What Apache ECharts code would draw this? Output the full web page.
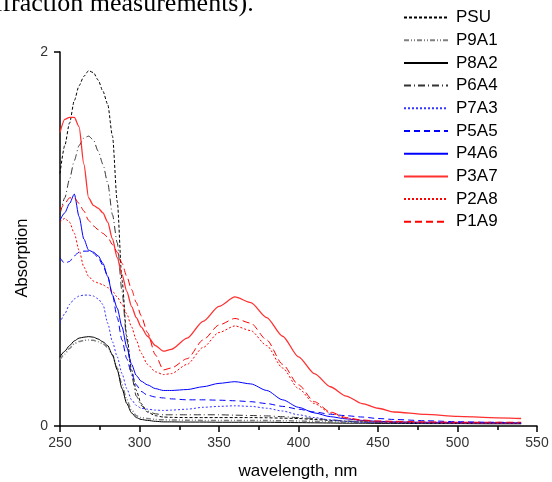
<!DOCTYPE html>
<html>
<head>
<meta charset="utf-8">
<script src="https://cdn.jsdelivr.net/npm/echarts@6/dist/echarts.min.js"></script>
<style>
  html, body { margin: 0; padding: 0; background: #fff; }
  #chart { width: 552px; height: 482px; }
</style>
</head>
<body>
<div id="chart"></div>
<script>
// wavelength grid (nm)
var wl = [250,253,256,259,262,265,268,271,274,277,280,283,286,289,292,295,298,301,305,310,315,320,330,340,350,360,370,380,390,400,410,420,430,440,450,460,480,500,520,540];

var psu  = [1.35,1.50,1.62,1.74,1.82,1.87,1.90,1.89,1.85,1.79,1.72,1.55,1.20,0.78,0.48,0.30,0.19,0.12,0.075,0.055,0.048,0.046,0.045,0.045,0.045,0.045,0.045,0.044,0.042,0.040,0.035,0.030,0.025,0.022,0.020,0.020,0.018,0.017,0.016,0.015];
var p9a1 = [0.355,0.385,0.415,0.44,0.452,0.458,0.46,0.458,0.45,0.44,0.42,0.38,0.31,0.22,0.14,0.085,0.055,0.045,0.04,0.035,0.033,0.032,0.031,0.03,0.03,0.03,0.03,0.029,0.028,0.027,0.025,0.023,0.021,0.02,0.019,0.018,0.017,0.016,0.015,0.015];
var p8a2 = [0.37,0.40,0.43,0.455,0.47,0.475,0.478,0.475,0.465,0.45,0.43,0.38,0.30,0.20,0.12,0.07,0.045,0.035,0.03,0.025,0.022,0.022,0.021,0.021,0.02,0.02,0.02,0.02,0.019,0.018,0.017,0.016,0.015,0.015,0.014,0.014,0.013,0.013,0.012,0.012];
var p6a4 = [1.13,1.22,1.32,1.42,1.50,1.54,1.55,1.53,1.47,1.40,1.30,1.13,0.98,0.72,0.46,0.27,0.16,0.11,0.08,0.065,0.06,0.06,0.06,0.06,0.06,0.058,0.056,0.054,0.05,0.045,0.04,0.033,0.027,0.022,0.02,0.018,0.016,0.015,0.015,0.015];
var p7a3 = [0.55,0.60,0.65,0.68,0.695,0.70,0.70,0.695,0.68,0.65,0.55,0.45,0.37,0.28,0.20,0.14,0.11,0.095,0.09,0.085,0.083,0.085,0.09,0.10,0.105,0.108,0.105,0.095,0.08,0.06,0.045,0.032,0.025,0.02,0.018,0.017,0.015,0.015,0.014,0.014];
var p5a5 = [0.90,0.87,0.88,0.91,0.93,0.935,0.935,0.925,0.90,0.86,0.80,0.70,0.58,0.46,0.36,0.28,0.22,0.185,0.165,0.155,0.15,0.145,0.14,0.14,0.138,0.135,0.13,0.12,0.105,0.09,0.075,0.063,0.055,0.048,0.04,0.035,0.028,0.023,0.02,0.018];
var p4a6 = [1.10,1.14,1.19,1.24,1.12,1.00,0.94,0.93,0.91,0.87,0.80,0.70,0.63,0.53,0.42,0.33,0.27,0.24,0.22,0.20,0.19,0.19,0.195,0.21,0.228,0.237,0.225,0.19,0.14,0.10,0.07,0.05,0.038,0.03,0.025,0.022,0.02,0.018,0.017,0.016];
var p3a7 = [1.57,1.64,1.65,1.65,1.60,1.40,1.22,1.18,1.165,1.14,1.09,1.00,0.90,0.81,0.72,0.64,0.58,0.53,0.48,0.43,0.40,0.41,0.47,0.56,0.64,0.69,0.66,0.58,0.48,0.37,0.28,0.21,0.16,0.12,0.095,0.075,0.062,0.052,0.045,0.04];
var p2a8 = [1.09,1.11,1.09,1.03,0.94,0.85,0.80,0.775,0.765,0.755,0.74,0.72,0.69,0.65,0.60,0.53,0.46,0.39,0.33,0.29,0.275,0.28,0.33,0.42,0.50,0.535,0.51,0.43,0.31,0.20,0.12,0.07,0.04,0.028,0.022,0.02,0.018,0.016,0.015,0.015];
var p1a9 = [1.15,1.19,1.22,1.22,1.19,1.15,1.10,1.07,1.05,1.03,1.01,0.97,0.93,0.87,0.80,0.73,0.66,0.59,0.50,0.38,0.30,0.31,0.36,0.46,0.54,0.575,0.55,0.46,0.33,0.22,0.13,0.075,0.045,0.032,0.027,0.025,0.022,0.02,0.02,0.02];

var xTicks = [250, 300, 350, 400, 450, 500, 550];
var yTicks = [0, 2];

function pairs(ys) {
  return wl.map(function (x, i) { return [x, ys[i]]; });
}

function line(name, ys, color, type, width) {
  return {
    name: name,
    type: 'line',
    data: pairs(ys),
    symbol: 'none',
    smooth: 0.25,
    smoothMonotone: 'x',
    lineStyle: { color: color, type: type, width: width || 1 },
    itemStyle: { color: color }
  };
}

var chart = echarts.init(document.getElementById('chart'));
chart.setOption({
  animation: false,
  backgroundColor: '#fff',
  grid: { left: 60, right: 15, top: 52, bottom: 56 },
  legend: {
    orient: 'vertical',
    left: 403,
    top: 9,
    padding: 0,
    itemWidth: 44,
    itemHeight: 14,
    itemGap: 5.7,
    itemStyle: { opacity: 0 },
    textStyle: { fontFamily: 'Liberation Sans', fontSize: 17, color: '#000', padding: [0, 0, 0, 3] }
  },
  xAxis: {
    type: 'value',
    min: xTicks[0],
    max: xTicks[xTicks.length - 1],
    interval: 50,
    axisLine: { lineStyle: { color: '#000', width: 1.5 } },
    axisTick: { length: 6, lineStyle: { color: '#000', width: 1.5 } },
    minorTick: { show: true, splitNumber: 2, length: 4, lineStyle: { color: '#000', width: 1.5 } },
    axisLabel: { color: '#333', fontFamily: 'Liberation Sans', fontSize: 14, margin: 10 },
    splitLine: { show: false }
  },
  yAxis: {
    type: 'value',
    min: yTicks[0],
    max: yTicks[yTicks.length - 1],
    interval: 2,
    axisLine: { show: true, lineStyle: { color: '#000', width: 1.5 } },
    axisTick: { show: true, length: 6, lineStyle: { color: '#000', width: 1.5 } },
    axisLabel: { color: '#333', fontFamily: 'Liberation Sans', fontSize: 14, margin: 12 },
    splitLine: { show: false }
  },
  graphic: [
    {
      type: 'text', left: -26, top: -9,
      style: { text: 'diffraction measurements).', font: '26px "Liberation Serif"', fill: '#000' }
    },
    {
      type: 'text', x: 22, y: 258, rotation: Math.PI / 2,
      style: { text: 'Absorption', font: '16.5px "Liberation Sans"', fill: '#000', align: 'center', verticalAlign: 'middle' }
    },
    {
      type: 'text', x: 298, y: 471,
      style: { text: 'wavelength, nm', font: '17px "Liberation Sans"', fill: '#000', align: 'center', verticalAlign: 'middle' }
    }
  ],
  series: [
    line('PSU', psu, '#000', [3, 2], 1),
    line('P9A1', p9a1, '#808080', [5, 2, 1, 2, 1, 2], 1.5),
    line('P8A2', p8a2, '#000', 'solid', 1),
    line('P6A4', p6a4, '#333', [7, 3, 1, 3], 1),
    line('P7A3', p7a3, '#3333ff', [2, 2], 1),
    line('P5A5', p5a5, '#0000ff', [6, 4], 1),
    line('P4A6', p4a6, '#0000ff', 'solid', 1),
    line('P3A7', p3a7, '#ff3030', 'solid', 1.3),
    line('P2A8', p2a8, '#ff0000', [2, 2], 1),
    line('P1A9', p1a9, '#ff0000', [7, 4], 1)
  ]
});
</script>
</body>
</html>
